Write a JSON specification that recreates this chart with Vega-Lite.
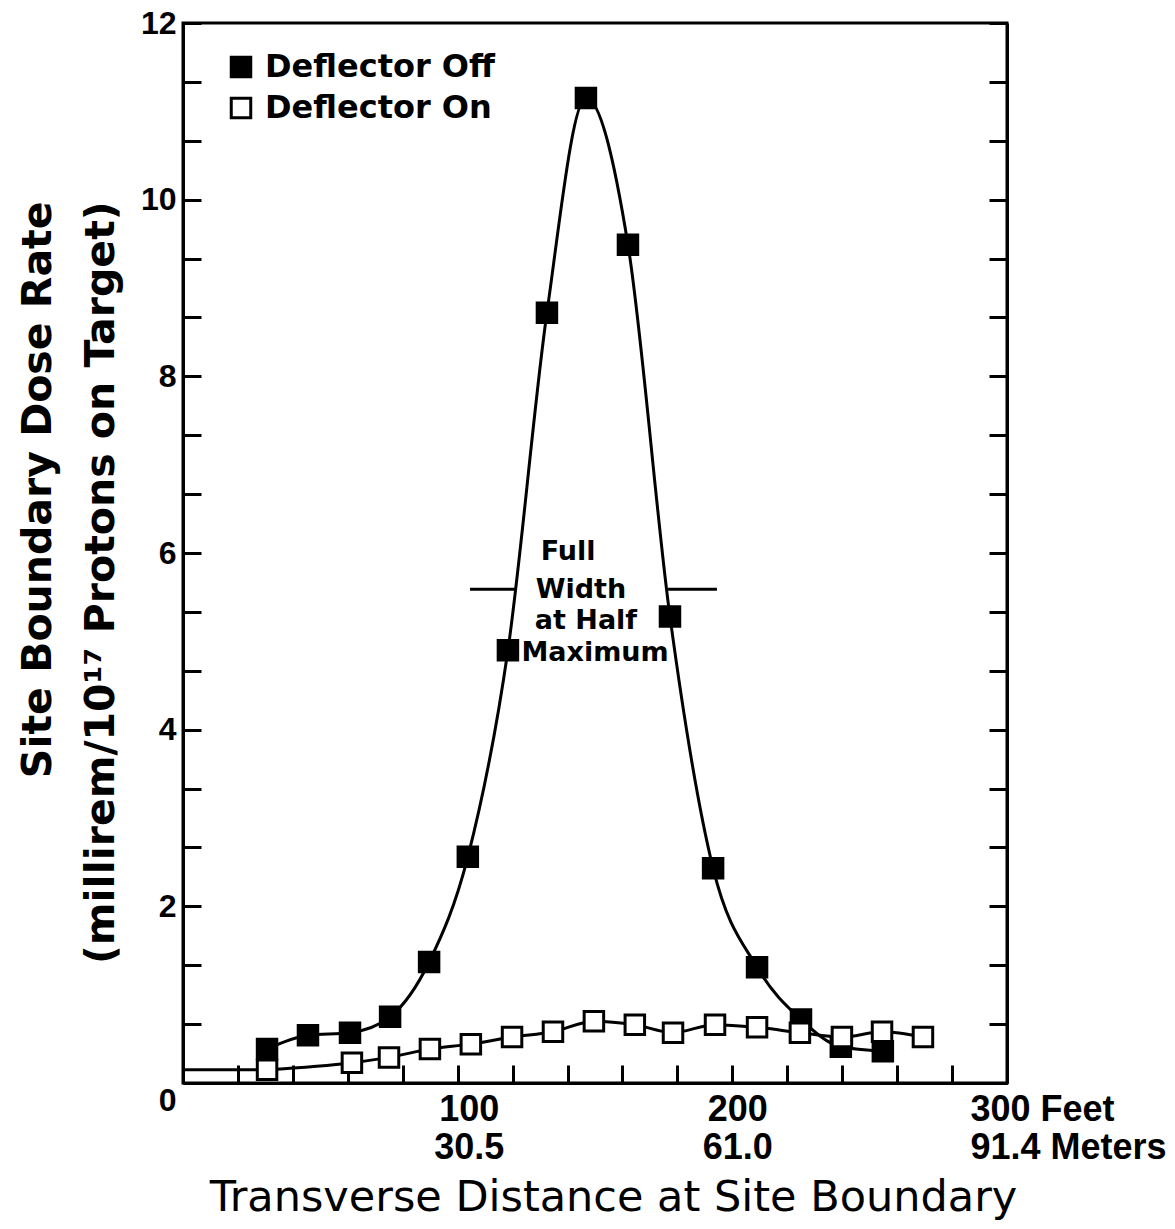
{
  "$schema": "https://vega.github.io/schema/vega-lite/v6.json",
  "width": 824,
  "height": 1060,
  "autosize": "none",
  "padding": {"left": 183, "top": 23, "right": 168, "bottom": 146},
  "background": "white",
  "config": {
    "view": {"stroke": "black", "strokeWidth": 3},
    "font": "Liberation Sans"
  },
  "datasets": {
    "points": [
      {"series": "Deflector Off", "x": 30.6, "y": 0.385},
      {"series": "Deflector Off", "x": 45.5, "y": 0.54},
      {"series": "Deflector Off", "x": 60.8, "y": 0.57},
      {"series": "Deflector Off", "x": 75.4, "y": 0.75},
      {"series": "Deflector Off", "x": 89.6, "y": 1.37},
      {"series": "Deflector Off", "x": 103.7, "y": 2.56},
      {"series": "Deflector Off", "x": 118.3, "y": 4.9},
      {"series": "Deflector Off", "x": 132.5, "y": 8.72},
      {"series": "Deflector Off", "x": 146.7, "y": 11.15},
      {"series": "Deflector Off", "x": 162.0, "y": 9.49},
      {"series": "Deflector Off", "x": 177.3, "y": 5.28},
      {"series": "Deflector Off", "x": 193.0, "y": 2.43},
      {"series": "Deflector Off", "x": 209.0, "y": 1.31},
      {"series": "Deflector Off", "x": 225.0, "y": 0.72},
      {"series": "Deflector Off", "x": 239.5, "y": 0.41},
      {"series": "Deflector Off", "x": 254.8, "y": 0.36},
      {"series": "Deflector On", "x": 30.6, "y": 0.15},
      {"series": "Deflector On", "x": 61.5, "y": 0.23},
      {"series": "Deflector On", "x": 75.0, "y": 0.29},
      {"series": "Deflector On", "x": 89.9, "y": 0.385},
      {"series": "Deflector On", "x": 104.8, "y": 0.44},
      {"series": "Deflector On", "x": 119.8, "y": 0.52},
      {"series": "Deflector On", "x": 134.7, "y": 0.58},
      {"series": "Deflector On", "x": 149.6, "y": 0.7},
      {"series": "Deflector On", "x": 164.5, "y": 0.66},
      {"series": "Deflector On", "x": 178.4, "y": 0.57},
      {"series": "Deflector On", "x": 193.7, "y": 0.66},
      {"series": "Deflector On", "x": 209.0, "y": 0.63},
      {"series": "Deflector On", "x": 224.6, "y": 0.57},
      {"series": "Deflector On", "x": 239.9, "y": 0.52},
      {"series": "Deflector On", "x": 254.5, "y": 0.58},
      {"series": "Deflector On", "x": 269.4, "y": 0.52}
    ],
    "segments": [
      {"x": 0, "x2": 30.6, "y": 0.15},
      {"x": 104.5, "x2": 120.9, "y": 5.59},
      {"x": 176.6, "x2": 194.4, "y": 5.59}
    ],
    "notes": [
      {"x": 140.2, "y": 6.01, "text": "Full"},
      {"x": 144.9, "y": 5.58, "text": "Width"},
      {"x": 146.7, "y": 5.23, "text": "at Half"},
      {"x": 150.0, "y": 4.87, "text": "Maximum"}
    ]
  },
  "resolve": {"axis": {"x": "independent", "y": "independent"}},
  "layer": [
    {
      "data": {"name": "points"},
      "mark": {"type": "line", "interpolate": "monotone", "color": "black", "strokeWidth": 3},
      "encoding": {
        "x": {
          "field": "x", "type": "quantitative",
          "scale": {"domain": [0, 300], "nice": false, "zero": false},
          "axis": {
            "orient": "bottom",
            "values": [0, 20, 40, 60, 80, 100, 120, 140, 160, 180, 200, 220, 240, 260, 280, 300],
            "labelExpr": "datum.value == 100 ? ['100', '30.5'] : datum.value == 200 ? ['200', '61.0'] : datum.value == 300 ? ['300 Feet', '91.4 Meters'] : ''",
            "labelAlign": {"condition": {"test": "datum.value == 300", "value": "left"}, "value": "center"},
            "labelOffset": {"condition": [{"test": "datum.value == 300", "value": -37}, {"test": "datum.value == 100", "value": 11}, {"test": "datum.value == 200", "value": 5}], "value": 0},
            "labelFont": "Liberation Sans",
            "labelFontWeight": "bold",
            "labelFontSize": 36,
            "labelLineHeight": 38,
            "labelColor": "black",
            "labelBaseline": "top",
            "labelPadding": 27,
            "labelFlush": false,
            "labelOverlap": false,
            "labelLimit": 400,
            "tickSize": -18,
            "tickWidth": 3,
            "tickColor": "black",
            "domainColor": "black",
            "domainWidth": 3,
            "grid": false,
            "title": "Transverse Distance at Site Boundary",
            "titleFont": "DejaVu Sans",
            "titleFontWeight": "normal",
            "titleFontSize": 43,
            "titleColor": "black",
            "titleAlign": "center",
            "titleBaseline": "middle",
            "titleX": 430,
            "titleY": 114
          }
        },
        "y": {
          "field": "y", "type": "quantitative",
          "scale": {"domain": [0, 12], "nice": false, "zero": false},
          "axis": {
            "orient": "left",
            "values": [0, 0.6667, 1.3333, 2, 2.6667, 3.3333, 4, 4.6667, 5.3333, 6, 6.6667, 7.3333, 8, 8.6667, 9.3333, 10, 10.6667, 11.3333, 12],
            "labelExpr": "abs(datum.value - round(datum.value)) < 0.01 && round(datum.value) % 2 == 0 ? format(round(datum.value), 'd') : ''",
            "labelOffset": {"condition": {"test": "datum.value == 0", "value": 17}, "value": 0},
            "labelFont": "Liberation Sans",
            "labelFontWeight": "bold",
            "labelFontSize": 32,
            "labelColor": "black",
            "labelPadding": 25,
            "labelFlush": false,
            "labelOverlap": false,
            "tickSize": -18,
            "tickWidth": 3,
            "tickColor": "black",
            "domainColor": "black",
            "domainWidth": 3,
            "grid": false,
            "title": ["Site Boundary Dose Rate", "(millirem/10¹⁷ Protons on Target)"],
            "titleFont": "DejaVu Sans",
            "titleFontWeight": "bold",
            "titleFontSize": 41,
            "titleColor": "black",
            "titleAngle": 270,
            "titleAlign": "right",
            "titleBaseline": "top",
            "titleLineHeight": 63,
            "titleX": -165,
            "titleY": 178
          }
        },
        "detail": {"field": "series"}
      }
    },
    {
      "data": {"name": "segments"},
      "mark": {"type": "rule", "color": "black", "strokeWidth": 3},
      "encoding": {
        "x": {"field": "x", "type": "quantitative", "scale": {"domain": [0, 300], "nice": false, "zero": false}, "axis": null},
        "x2": {"field": "x2"},
        "y": {"field": "y", "type": "quantitative", "scale": {"domain": [0, 12], "nice": false, "zero": false}, "axis": null}
      }
    },
    {
      "data": {"name": "points"},
      "mark": {"type": "point", "shape": "square", "size": 380, "stroke": "black", "strokeWidth": 3, "opacity": 1, "fillOpacity": 1},
      "encoding": {
        "x": {"field": "x", "type": "quantitative", "scale": {"domain": [0, 300], "nice": false, "zero": false}, "axis": null},
        "y": {
          "field": "y", "type": "quantitative",
          "scale": {"domain": [0, 12], "nice": false, "zero": false},
          "axis": {
            "orient": "right",
            "values": [0, 0.6667, 1.3333, 2, 2.6667, 3.3333, 4, 4.6667, 5.3333, 6, 6.6667, 7.3333, 8, 8.6667, 9.3333, 10, 10.6667, 11.3333, 12],
            "labels": false,
            "tickSize": -18,
            "tickWidth": 3,
            "tickColor": "black",
            "domainColor": "black",
            "domainWidth": 3,
            "grid": false,
            "title": null
          }
        },
        "fill": {
          "field": "series", "type": "nominal",
          "scale": {"domain": ["Deflector Off", "Deflector On"], "range": ["black", "white"]},
          "legend": {
            "orient": "none",
            "legendX": 42,
            "legendY": 28,
            "title": null,
            "padding": 0,
            "symbolType": "square",
            "symbolSize": 380,
            "symbolStrokeColor": "black",
            "symbolStrokeWidth": 3,
            "symbolOpacity": 1,
            "labelFont": "DejaVu Sans",
            "labelFontWeight": "bold",
            "labelFontSize": 32,
            "labelColor": "black",
            "labelOffset": 8,
            "rowPadding": 9,
            "labelLimit": 400
          }
        }
      }
    },
    {
      "data": {"name": "notes"},
      "mark": {"type": "text", "font": "DejaVu Sans", "fontWeight": "bold", "fontSize": 27, "align": "center", "baseline": "middle", "color": "black"},
      "encoding": {
        "x": {"field": "x", "type": "quantitative", "scale": {"domain": [0, 300], "nice": false, "zero": false}, "axis": null},
        "y": {"field": "y", "type": "quantitative", "scale": {"domain": [0, 12], "nice": false, "zero": false}, "axis": null},
        "text": {"field": "text"}
      }
    }
  ]
}
